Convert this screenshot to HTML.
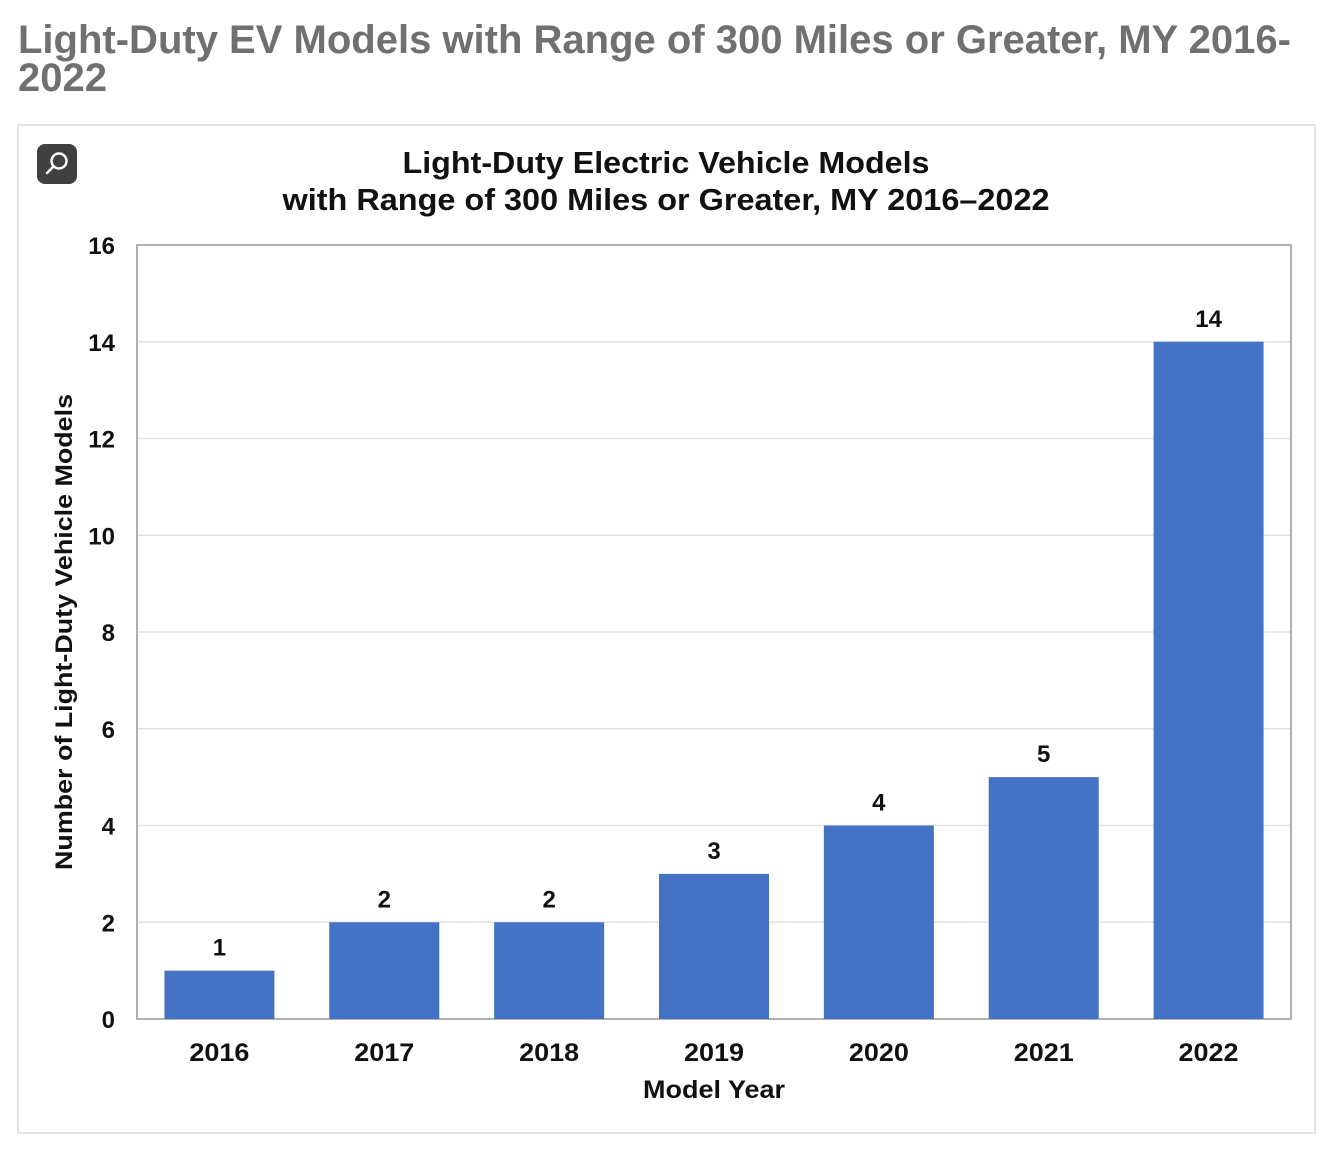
<!DOCTYPE html>
<html><head><meta charset="utf-8"><style>
body{margin:0;background:#fff;width:1330px;height:1150px;overflow:hidden;font-family:"Liberation Sans",sans-serif}
#title{position:absolute;left:18px;top:21px;width:1295px;margin:0;font-size:40px;line-height:38px;font-weight:bold;color:#707070}
#box{position:absolute;left:17px;top:124px;width:1295px;height:1006px;border:2px solid #e3e3e3}
#zoom{position:absolute;left:37px;top:144px;width:40px;height:40px;background:#404040;border-radius:8px}
svg{position:absolute;left:0;top:0}
</style></head><body>
<h1 id="title">Light-Duty EV Models with Range of 300 Miles or Greater, MY 2016-2022</h1>
<div id="box"></div>
<div id="zoom"><svg width="40" height="40" viewBox="0 0 40 40"><circle cx="22" cy="17" r="7.5" fill="none" stroke="#fff" stroke-width="2.5"/><line x1="16.5" y1="22.5" x2="10" y2="29" stroke="#fff" stroke-width="2.5" stroke-linecap="round"/></svg></div>
<svg id="chart" width="1330" height="1150" style="pointer-events:none"></svg>
<script>
const categories=["2016","2017","2018","2019","2020","2021","2022"];
const values=[1,2,2,3,4,5,14];
const yTicks=[0,2,4,6,8,10,12,14,16];
const NS="http://www.w3.org/2000/svg";
const svg=document.getElementById('chart');
const L=137,R=1291,T=245,B=1019,yMax=16;
const y=v=>B-(v/yMax)*(B-T);
const step=(R-L)/categories.length;
const x=i=>L+step*(i+0.5);
function mk(tag,attrs,txt){const e=document.createElementNS(NS,tag);for(const k in attrs)e.setAttribute(k,attrs[k]);if(txt!==undefined)e.textContent=txt;svg.appendChild(e);return e;}
let t=mk('text',{x:666,y:173,'text-anchor':'middle','font-size':31,'font-weight':'bold',fill:'#111',textLength:527,lengthAdjust:'spacingAndGlyphs'},'Light-Duty Electric Vehicle Models');


t=mk('text',{x:666,y:210,'text-anchor':'middle','font-size':31,'font-weight':'bold',fill:'#111',textLength:767,lengthAdjust:'spacingAndGlyphs'},'with Range of 300 Miles or Greater, MY 2016–2022');


yTicks.forEach(v=>{
  const g=mk('line',{x1:L,x2:R,y1:y(v),y2:y(v),stroke:'#e2e2e2','stroke-width':1.5});
  
  
  const tl=mk('text',{x:115,y:y(v)+9,'text-anchor':'end','font-size':24,'font-weight':'bold',fill:'#111'},String(v));
  
  
});
const fr=mk('rect',{x:L,y:T,width:R-L,height:B-T,fill:'none',stroke:'#b0b0b0','stroke-width':2});


const bw=110;
categories.forEach((c,i)=>{
  const b=mk('rect',{x:x(i)-bw/2,y:y(values[i]),width:bw,height:B-y(values[i]),fill:'#4472c4'});
  
  
  const vl=mk('text',{x:x(i),y:y(values[i])-15,'text-anchor':'middle','font-size':24,'font-weight':'bold',fill:'#111'},String(values[i]));
  
  
  const xl=mk('text',{x:x(i),y:1061,'text-anchor':'middle','font-size':25,'font-weight':'bold',fill:'#111',textLength:60,lengthAdjust:'spacingAndGlyphs'},c);
  
  
});
t=mk('text',{x:714,y:1098,'text-anchor':'middle','font-size':25,'font-weight':'bold',fill:'#111',textLength:142,lengthAdjust:'spacingAndGlyphs'},'Model Year');


t=mk('text',{x:0,y:0,'text-anchor':'middle','font-size':24,'font-weight':'bold',fill:'#111',textLength:476,lengthAdjust:'spacingAndGlyphs',transform:'translate(72,632) rotate(-90)'},'Number of Light-Duty Vehicle Models');


</script>
</body></html>
